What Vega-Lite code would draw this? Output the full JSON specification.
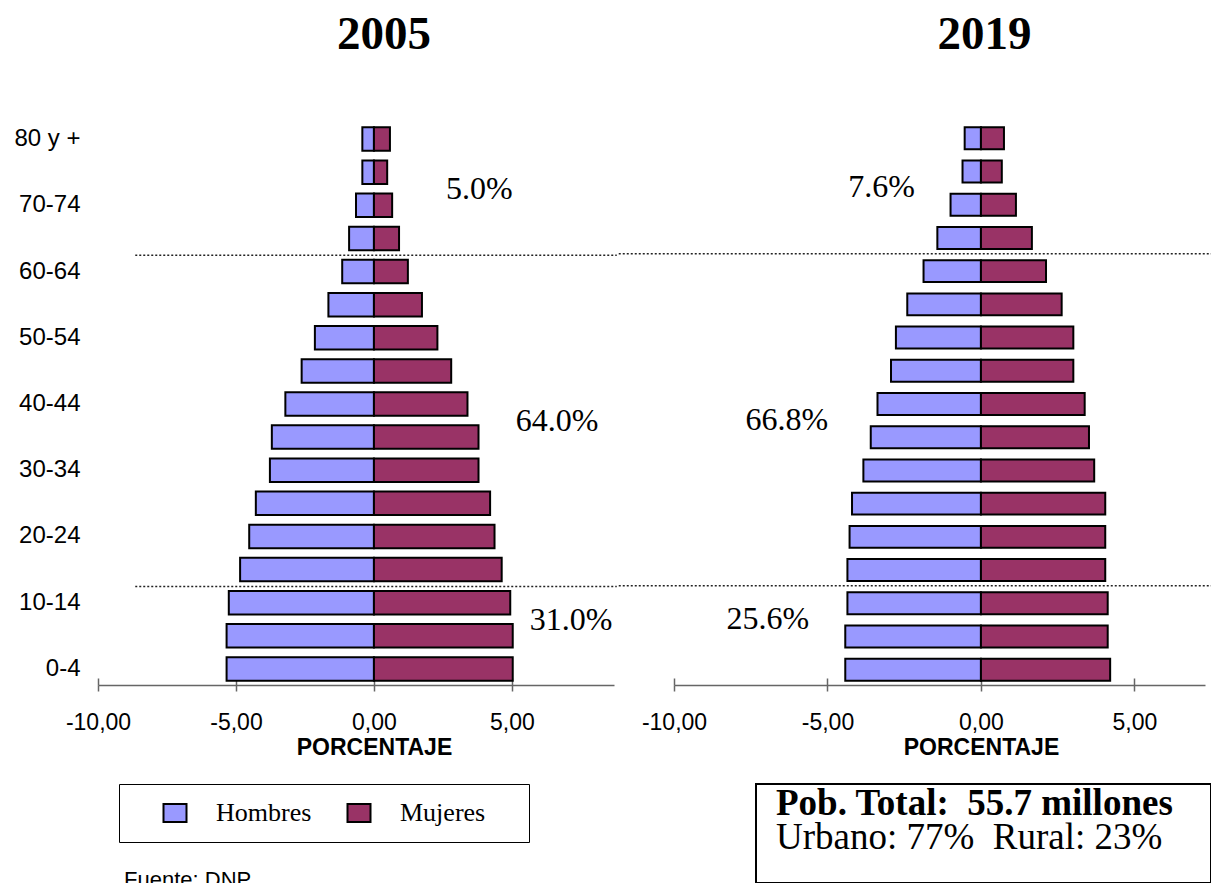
{
  "$schema": "https://vega.github.io/schema/vega-lite/v6.json",
  "padding": {"left": 13, "top": 11, "right": 0, "bottom": 0},
  "background": "white",
  "config": {
    "view": {"stroke": null},
    "locale": {"number": {"decimal": ",", "thousands": ".", "grouping": [3], "currency": ["", " €"], "minus": "-"}}
  },
  "datasets": {
    "pop": [
      {"year": 2005, "age": "80 y +", "sex": "Hombres", "pct": -0.42},
      {"year": 2005, "age": "75-79", "sex": "Hombres", "pct": -0.42},
      {"year": 2005, "age": "70-74", "sex": "Hombres", "pct": -0.65},
      {"year": 2005, "age": "65-69", "sex": "Hombres", "pct": -0.9},
      {"year": 2005, "age": "60-64", "sex": "Hombres", "pct": -1.15},
      {"year": 2005, "age": "55-59", "sex": "Hombres", "pct": -1.65},
      {"year": 2005, "age": "50-54", "sex": "Hombres", "pct": -2.14},
      {"year": 2005, "age": "45-49", "sex": "Hombres", "pct": -2.62},
      {"year": 2005, "age": "40-44", "sex": "Hombres", "pct": -3.21},
      {"year": 2005, "age": "35-39", "sex": "Hombres", "pct": -3.7},
      {"year": 2005, "age": "30-34", "sex": "Hombres", "pct": -3.77},
      {"year": 2005, "age": "25-29", "sex": "Hombres", "pct": -4.28},
      {"year": 2005, "age": "20-24", "sex": "Hombres", "pct": -4.52},
      {"year": 2005, "age": "15-19", "sex": "Hombres", "pct": -4.85},
      {"year": 2005, "age": "10-14", "sex": "Hombres", "pct": -5.26},
      {"year": 2005, "age": "5-9", "sex": "Hombres", "pct": -5.34},
      {"year": 2005, "age": "0-4", "sex": "Hombres", "pct": -5.34},
      {"year": 2005, "age": "80 y +", "sex": "Mujeres", "pct": 0.58},
      {"year": 2005, "age": "75-79", "sex": "Mujeres", "pct": 0.48},
      {"year": 2005, "age": "70-74", "sex": "Mujeres", "pct": 0.66},
      {"year": 2005, "age": "65-69", "sex": "Mujeres", "pct": 0.91},
      {"year": 2005, "age": "60-64", "sex": "Mujeres", "pct": 1.23},
      {"year": 2005, "age": "55-59", "sex": "Mujeres", "pct": 1.74},
      {"year": 2005, "age": "50-54", "sex": "Mujeres", "pct": 2.3},
      {"year": 2005, "age": "45-49", "sex": "Mujeres", "pct": 2.8},
      {"year": 2005, "age": "40-44", "sex": "Mujeres", "pct": 3.39},
      {"year": 2005, "age": "35-39", "sex": "Mujeres", "pct": 3.79},
      {"year": 2005, "age": "30-34", "sex": "Mujeres", "pct": 3.79},
      {"year": 2005, "age": "25-29", "sex": "Mujeres", "pct": 4.21},
      {"year": 2005, "age": "20-24", "sex": "Mujeres", "pct": 4.37},
      {"year": 2005, "age": "15-19", "sex": "Mujeres", "pct": 4.63},
      {"year": 2005, "age": "10-14", "sex": "Mujeres", "pct": 4.94},
      {"year": 2005, "age": "5-9", "sex": "Mujeres", "pct": 5.03},
      {"year": 2005, "age": "0-4", "sex": "Mujeres", "pct": 5.03},
      {"year": 2019, "age": "80 y +", "sex": "Hombres", "pct": -0.53},
      {"year": 2019, "age": "75-79", "sex": "Hombres", "pct": -0.6},
      {"year": 2019, "age": "70-74", "sex": "Hombres", "pct": -0.99},
      {"year": 2019, "age": "65-69", "sex": "Hombres", "pct": -1.42},
      {"year": 2019, "age": "60-64", "sex": "Hombres", "pct": -1.87},
      {"year": 2019, "age": "55-59", "sex": "Hombres", "pct": -2.4},
      {"year": 2019, "age": "50-54", "sex": "Hombres", "pct": -2.77},
      {"year": 2019, "age": "45-49", "sex": "Hombres", "pct": -2.93},
      {"year": 2019, "age": "40-44", "sex": "Hombres", "pct": -3.37},
      {"year": 2019, "age": "35-39", "sex": "Hombres", "pct": -3.59},
      {"year": 2019, "age": "30-34", "sex": "Hombres", "pct": -3.83},
      {"year": 2019, "age": "25-29", "sex": "Hombres", "pct": -4.2},
      {"year": 2019, "age": "20-24", "sex": "Hombres", "pct": -4.28},
      {"year": 2019, "age": "15-19", "sex": "Hombres", "pct": -4.35},
      {"year": 2019, "age": "10-14", "sex": "Hombres", "pct": -4.35},
      {"year": 2019, "age": "5-9", "sex": "Hombres", "pct": -4.42},
      {"year": 2019, "age": "0-4", "sex": "Hombres", "pct": -4.42},
      {"year": 2019, "age": "80 y +", "sex": "Mujeres", "pct": 0.75},
      {"year": 2019, "age": "75-79", "sex": "Mujeres", "pct": 0.68},
      {"year": 2019, "age": "70-74", "sex": "Mujeres", "pct": 1.14},
      {"year": 2019, "age": "65-69", "sex": "Mujeres", "pct": 1.66},
      {"year": 2019, "age": "60-64", "sex": "Mujeres", "pct": 2.12},
      {"year": 2019, "age": "55-59", "sex": "Mujeres", "pct": 2.63},
      {"year": 2019, "age": "50-54", "sex": "Mujeres", "pct": 3.01},
      {"year": 2019, "age": "45-49", "sex": "Mujeres", "pct": 3.01},
      {"year": 2019, "age": "40-44", "sex": "Mujeres", "pct": 3.38},
      {"year": 2019, "age": "35-39", "sex": "Mujeres", "pct": 3.52},
      {"year": 2019, "age": "30-34", "sex": "Mujeres", "pct": 3.69},
      {"year": 2019, "age": "25-29", "sex": "Mujeres", "pct": 4.05},
      {"year": 2019, "age": "20-24", "sex": "Mujeres", "pct": 4.05},
      {"year": 2019, "age": "15-19", "sex": "Mujeres", "pct": 4.05},
      {"year": 2019, "age": "10-14", "sex": "Mujeres", "pct": 4.13},
      {"year": 2019, "age": "5-9", "sex": "Mujeres", "pct": 4.13},
      {"year": 2019, "age": "0-4", "sex": "Mujeres", "pct": 4.21}
    ],
    "notes": [
      {"year": 2005, "label": "5.0%", "x": 2.61, "age": "75-79"},
      {"year": 2005, "label": "64.0%", "x": 5.14, "age": "40-44"},
      {"year": 2005, "label": "31.0%", "x": 5.65, "age": "10-14"},
      {"year": 2019, "label": "7.6%", "x": -4.32, "age": "75-79"},
      {"year": 2019, "label": "66.8%", "x": -7.67, "age": "40-44"},
      {"year": 2019, "label": "25.6%", "x": -8.29, "age": "10-14"}
    ],
    "rules": [
      {"year": 2005, "age": "65-69", "x1": -8.65, "x2": 8.8},
      {"year": 2005, "age": "15-19", "x1": -8.65, "x2": 8.8},
      {"year": 2019, "age": "65-69", "x1": -11.8, "x2": 7.5},
      {"year": 2019, "age": "15-19", "x1": -11.8, "x2": 7.5}
    ],
    "info": [
      {"line": 1, "text": "Pob. Total:\u00a0 55.7 millones", "pos": 0.44, "y": 3.1},
      {"line": 2, "text": "Urbano: 77%\u00a0 Rural: 23%", "pos": 0.44, "y": 6.57}
    ],
    "source": [
      {"text": "Fuente: DNP", "pos": 0.436, "y": 10.3}
    ]
  },
  "spacing": 24,
  "bounds": "full",
  "resolve": {"scale": {"x": "independent", "y": "independent"}},
  "vconcat": [
    {
      "spacing": 60,
      "bounds": "flush",
      "hconcat": [
        {
          "width": 516,
          "height": 562,
          "title": {"text": "2005", "font": "Liberation Serif", "fontSize": 47, "fontWeight": "bold", "color": "black", "anchor": "middle", "dx": 28, "offset": 27, "baseline": "alphabetic"},
          "resolve": {"axis": {"x": "independent"}},
          "layer": [
            {
              "data": {"name": "pop"},
              "transform": [{"filter": "datum.year == 2005"}],
              "mark": {"type": "bar", "stroke": "black", "strokeWidth": 2},
              "encoding": {
                "y": {
                  "field": "age", "type": "nominal",
                  "sort": ["80 y +", "75-79", "70-74", "65-69", "60-64", "55-59", "50-54", "45-49", "40-44", "35-39", "30-34", "25-29", "20-24", "15-19", "10-14", "5-9", "0-4"],
                  "scale": {"paddingInner": 0.29, "paddingOuter": 0.13},
                  "axis": {
                    "values": ["80 y +", "70-74", "60-64", "50-54", "40-44", "30-34", "20-24", "10-14", "0-4"],
                    "title": null, "domain": false, "ticks": false, "labelPadding": 18,
                    "labelFont": "Liberation Sans", "labelFontSize": 24, "labelColor": "black"
                  }
                },
                "x": {
                  "field": "pct", "type": "quantitative", "stack": null,
                  "scale": {"domain": [-10, 8.7], "nice": false},
                  "axis": {
                    "orient": "bottom",
                    "values": [-10, -5, 0, 5], "format": ".2f", "grid": false,
                    "title": "PORCENTAJE", "titleFont": "Liberation Sans", "titleFontWeight": "bold", "titleFontSize": 23, "titleColor": "black",
                    "titleX": 276, "titleAlign": "center", "titlePadding": 2,
                    "labelFont": "Liberation Sans", "labelFontSize": 23, "labelColor": "black", "labelPadding": 20, "labelFlush": false,
                    "tickSize": 6, "tickColor": "#666666", "tickWidth": 1.5, "domainColor": "#666666", "domainWidth": 1.5
                  }
                },
                "color": {
                  "field": "sex", "type": "nominal",
                  "scale": {"domain": ["Hombres", "Mujeres"], "range": ["#9999FF", "#993366"]},
                  "legend": {
                    "orient": "none", "legendX": 21, "legendY": 661, "direction": "horizontal",
                    "title": "\u00a0", "titleOrient": "right", "titlePadding": 28, "titleFont": "Liberation Serif", "titleFontSize": 26,
                    "strokeColor": "black", "padding": 16,
                    "symbolType": "M-1,-0.78H1V0.78H-1Z", "symbolSize": 529, "symbolStrokeColor": "black", "symbolStrokeWidth": 2,
                    "symbolOffset": 27, "labelOffset": 28, "columnPadding": 7,
                    "labelFont": "Liberation Serif", "labelFontSize": 26, "labelColor": "black"
                  }
                }
              }
            },
            {
              "data": {"name": "rules"},
              "transform": [{"filter": "datum.year == 2005"}],
              "mark": {"type": "rule", "strokeDash": [2, 2], "strokeWidth": 1.5, "color": "#222222"},
              "encoding": {
                "y": {"field": "age", "type": "nominal", "bandPosition": 1.22, "sort": ["80 y +", "75-79", "70-74", "65-69", "60-64", "55-59", "50-54", "45-49", "40-44", "35-39", "30-34", "25-29", "20-24", "15-19", "10-14", "5-9", "0-4"]},
                "x": {
                  "field": "x1", "type": "quantitative",
                  "axis": {"orient": "bottom", "values": [-10, -5, 0, 5], "labels": false, "domain": false, "grid": false, "title": null, "tickSize": -7, "tickColor": "#666666", "tickWidth": 1.5}
                },
                "x2": {"field": "x2"}
              }
            },
            {
              "data": {"name": "notes"},
              "transform": [{"filter": "datum.year == 2005"}],
              "mark": {"type": "text", "align": "left", "baseline": "middle", "font": "Liberation Serif", "fontSize": 32, "color": "black"},
              "encoding": {
                "y": {"field": "age", "type": "nominal", "bandPosition": 1.22, "sort": ["80 y +", "75-79", "70-74", "65-69", "60-64", "55-59", "50-54", "45-49", "40-44", "35-39", "30-34", "25-29", "20-24", "15-19", "10-14", "5-9", "0-4"]},
                "x": {"field": "x", "type": "quantitative", "axis": null},
                "text": {"field": "label"}
              }
            }
          ]
        },
        {
          "width": 531,
          "height": 562,
          "title": {"text": "2019", "font": "Liberation Serif", "fontSize": 47, "fontWeight": "bold", "color": "black", "anchor": "middle", "dx": 45, "offset": 27, "baseline": "alphabetic"},
          "resolve": {"axis": {"x": "independent"}},
          "layer": [
            {
              "data": {"name": "pop"},
              "transform": [{"filter": "datum.year == 2019"}],
              "mark": {"type": "bar", "stroke": "black", "strokeWidth": 2},
              "encoding": {
                "y": {
                  "field": "age", "type": "nominal",
                  "sort": ["80 y +", "75-79", "70-74", "65-69", "60-64", "55-59", "50-54", "45-49", "40-44", "35-39", "30-34", "25-29", "20-24", "15-19", "10-14", "5-9", "0-4"],
                  "scale": {"paddingInner": 0.34, "paddingOuter": 0.13},
                  "axis": null
                },
                "x": {
                  "field": "pct", "type": "quantitative", "stack": null,
                  "scale": {"domain": [-10, 7.3], "nice": false},
                  "axis": {
                    "orient": "bottom",
                    "values": [-10, -5, 0, 5], "format": ".2f", "grid": false,
                    "title": "PORCENTAJE", "titleFont": "Liberation Sans", "titleFontWeight": "bold", "titleFontSize": 23, "titleColor": "black",
                    "titleX": 307, "titleAlign": "center", "titlePadding": 2,
                    "labelFont": "Liberation Sans", "labelFontSize": 23, "labelColor": "black", "labelPadding": 20, "labelFlush": false,
                    "tickSize": 6, "tickColor": "#666666", "tickWidth": 1.5, "domainColor": "#666666", "domainWidth": 1.5
                  }
                },
                "color": {"field": "sex", "type": "nominal"}
              }
            },
            {
              "data": {"name": "rules"},
              "transform": [{"filter": "datum.year == 2019"}],
              "mark": {"type": "rule", "strokeDash": [2, 2], "strokeWidth": 1.5, "color": "#222222"},
              "encoding": {
                "y": {"field": "age", "type": "nominal", "bandPosition": 1.22, "sort": ["80 y +", "75-79", "70-74", "65-69", "60-64", "55-59", "50-54", "45-49", "40-44", "35-39", "30-34", "25-29", "20-24", "15-19", "10-14", "5-9", "0-4"]},
                "x": {
                  "field": "x1", "type": "quantitative",
                  "axis": {"orient": "bottom", "values": [-10, -5, 0, 5], "labels": false, "domain": false, "grid": false, "title": null, "tickSize": -7, "tickColor": "#666666", "tickWidth": 1.5}
                },
                "x2": {"field": "x2"}
              }
            },
            {
              "data": {"name": "notes"},
              "transform": [{"filter": "datum.year == 2019"}],
              "mark": {"type": "text", "align": "left", "baseline": "middle", "font": "Liberation Serif", "fontSize": 32, "color": "black"},
              "encoding": {
                "y": {"field": "age", "type": "nominal", "bandPosition": 1.22, "sort": ["80 y +", "75-79", "70-74", "65-69", "60-64", "55-59", "50-54", "45-49", "40-44", "35-39", "30-34", "25-29", "20-24", "15-19", "10-14", "5-9", "0-4"]},
                "x": {"field": "x", "type": "quantitative", "axis": null},
                "text": {"field": "label"}
              }
            }
          ]
        }
      ]
    },
    {
      "spacing": 60,
      "bounds": "flush",
      "hconcat": [
        {
          "width": 598,
          "height": 100,
          "data": {"name": "source"},
          "mark": {"type": "text", "align": "left", "baseline": "alphabetic", "font": "Liberation Sans", "fontSize": 22, "color": "black", "clip": true},
          "encoding": {
            "x": {"field": "pos", "type": "quantitative", "scale": {"domain": [0, 10], "nice": false}, "axis": null},
            "y": {"field": "y", "type": "quantitative", "scale": {"domain": [0, 10], "nice": false, "reverse": true, "zero": false}, "axis": null},
            "text": {"field": "text"}
          }
        },
        {
          "width": 455,
          "height": 99,
          "view": {"stroke": "black", "strokeWidth": 2},
          "data": {"name": "info"},
          "layer": [
            {
              "transform": [{"filter": "datum.line == 1"}],
              "mark": {"type": "text", "align": "left", "baseline": "alphabetic", "font": "Liberation Serif", "fontSize": 37, "fontWeight": "bold", "color": "black"},
              "encoding": {
                "x": {"field": "pos", "type": "quantitative", "scale": {"domain": [0, 10], "nice": false}, "axis": null},
                "y": {"field": "y", "type": "quantitative", "scale": {"domain": [0, 10], "nice": false, "reverse": true, "zero": false}, "axis": null},
                "text": {"field": "text"}
              }
            },
            {
              "transform": [{"filter": "datum.line == 2"}],
              "mark": {"type": "text", "align": "left", "baseline": "alphabetic", "font": "Liberation Serif", "fontSize": 37, "color": "black"},
              "encoding": {
                "x": {"field": "pos", "type": "quantitative", "axis": null},
                "y": {"field": "y", "type": "quantitative", "axis": null},
                "text": {"field": "text"}
              }
            }
          ]
        }
      ]
    }
  ]
}
